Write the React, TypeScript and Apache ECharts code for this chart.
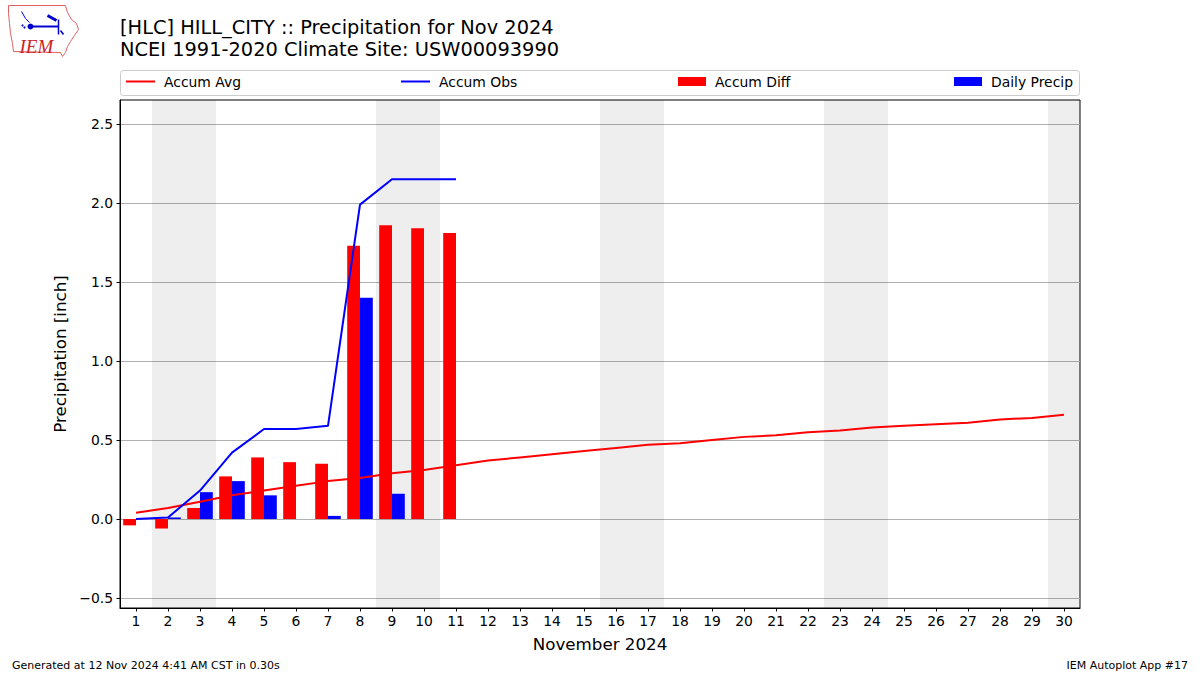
import React, { useEffect, useRef } from "react";
import * as echarts from "echarts";

const days = [1, 2, 3, 4, 5, 6, 7, 8, 9, 10, 11, 12, 13, 14, 15, 16, 17, 18, 19, 20, 21, 22, 23, 24, 25, 26, 27, 28, 29, 30];
const accumAvg = [0.04, 0.07, 0.11, 0.15, 0.18, 0.21, 0.24, 0.26, 0.29, 0.31, 0.34, 0.37, 0.39, 0.41, 0.43, 0.45, 0.47, 0.48, 0.5, 0.52, 0.53, 0.55, 0.56, 0.58, 0.59, 0.6, 0.61, 0.63, 0.64, 0.66];
const obsDays = [1, 2, 3, 4, 5, 6, 7, 8, 9, 10, 11];
const accumObs = [0, 0.01, 0.18, 0.42, 0.57, 0.57, 0.59, 1.99, 2.15, 2.15, 2.15];
const accumDiff = [-0.04, -0.06, 0.07, 0.27, 0.39, 0.36, 0.35, 1.73, 1.86, 1.84, 1.81];
const dailyPrecip = [0, 0.01, 0.17, 0.24, 0.15, 0, 0.02, 1.4, 0.16, 0, 0];
const weekendRanges = [[1.5, 3.5], [8.5, 10.5], [15.5, 17.5], [22.5, 24.5], [29.5, 30.5]];
const yTicks = [-0.5, 0, 0.5, 1.0, 1.5, 2.0, 2.5];

const titleLines = ["[HLC] HILL_CITY :: Precipitation for Nov 2024", "NCEI 1991-2020 Climate Site: USW00093990"];
const footerLeft = "Generated at 12 Nov 2024 4:41 AM CST in 0.30s";
const footerRight = "IEM Autoplot App #17";

const FONT = "DejaVu Sans";

export default function App() {
  const ref = useRef<HTMLDivElement>(null);
  useEffect(() => {
    document.body.style.margin = "0";
    const chart = echarts.init(ref.current!, null, { renderer: "svg" });
    const legendText = { fontFamily: FONT, fontSize: 13.9, color: "#000", padding: [0, 0, 0, 4], lineHeight: 16 };
    const lineLegend = (name: string, left: number) => ({
      data: [name], left, top: 73.5, padding: 0, icon: "rect", itemWidth: 29, itemHeight: 2,
      selectedMode: false, textStyle: legendText,
    });
    const barLegend = (name: string, left: number) => ({
      data: [name], left, top: 73.5, padding: 0, icon: "rect", itemWidth: 28, itemHeight: 9,
      selectedMode: false, textStyle: legendText,
    });
    const option: any = {
      animation: false,
      backgroundColor: "#fff",
      title: {
        text: titleLines.join("\n"),
        left: 120, top: 16, padding: 0,
        textStyle: { fontFamily: FONT, fontSize: 19.4, fontWeight: "normal", color: "#000", lineHeight: 22 },
      },
      legend: [
        lineLegend("Accum Avg", 126),
        lineLegend("Accum Obs", 401),
        barLegend("Accum Diff", 678),
        barLegend("Daily Precip", 954),
      ],
      grid: { left: 120, top: 100, width: 960, height: 508, show: true, borderColor: "#000", borderWidth: 1, backgroundColor: "transparent" },
      xAxis: {
        type: "value", min: 0.5, max: 30.5,
        name: "November 2024", nameLocation: "middle", nameGap: 27,
        nameTextStyle: { fontFamily: FONT, fontSize: 16.7, color: "#000" },
        axisLine: { show: true, onZero: false, lineStyle: { color: "#000", width: 1 } },
        axisTick: { show: true, length: 3.5, customValues: days, lineStyle: { color: "#000" } },
        axisLabel: { customValues: days, fontFamily: FONT, fontSize: 13.9, color: "#000", margin: 6 },
        splitLine: { show: false },
      },
      yAxis: {
        type: "value", min: -0.563, max: 2.652,
        name: "Precipitation [inch]", nameLocation: "middle", nameGap: 52,
        nameTextStyle: { fontFamily: FONT, fontSize: 16.7, color: "#000" },
        axisLine: { show: true, onZero: false, lineStyle: { color: "#000", width: 1 } },
        axisTick: { show: true, length: 3.5, customValues: yTicks, lineStyle: { color: "#000" } },
        axisLabel: {
          customValues: yTicks, fontFamily: FONT, fontSize: 13.9, color: "#000", margin: 7,
          formatter: (v: number) => (v < 0 ? "\u2212" + Math.abs(v).toFixed(1) : v.toFixed(1)),
        },
        splitLine: { show: true, lineStyle: { color: "#b0b0b0", width: 1 } },
      },
      series: [
        {
          name: "bg", type: "line", data: [], z: 1, silent: true,
          markArea: {
            silent: true,
            itemStyle: { color: "rgba(0,0,0,0.067)" },
            data: weekendRanges.map((r) => [{ xAxis: r[0] }, { xAxis: r[1] }]),
          },
        },
        {
          name: "Accum Diff", type: "bar", barWidth: 12.8, barGap: "0%",
          itemStyle: { color: "#ff0000" },
          data: obsDays.map((d, i) => [d, accumDiff[i]]),
        },
        {
          name: "Daily Precip", type: "bar", barWidth: 12.8, barGap: "0%",
          itemStyle: { color: "#0000ff" },
          data: obsDays.map((d, i) => [d, dailyPrecip[i]]),
        },
        {
          name: "Accum Avg", type: "line", symbol: "none", showSymbol: false, z: 3,
          lineStyle: { color: "#ff0000", width: 2 }, itemStyle: { color: "#ff0000" },
          data: days.map((d, i) => [d, accumAvg[i]]),
        },
        {
          name: "Accum Obs", type: "line", symbol: "none", showSymbol: false, z: 3,
          lineStyle: { color: "#0000ff", width: 2 }, itemStyle: { color: "#0000ff" },
          data: obsDays.map((d, i) => [d, accumObs[i]]),
        },
      ],
      graphic: [
        {
          type: "rect", shape: { x: 120.5, y: 70.5, width: 959, height: 25, r: 3 },
          style: { fill: "rgba(255,255,255,0.8)", stroke: "#cccccc", lineWidth: 1 }, z: 0, silent: true,
        },
        {
          type: "text", left: 12, top: 660,
          style: { text: footerLeft, fontFamily: FONT, fontSize: 11, fill: "#000" },
        },
        {
          type: "text", right: 12, top: 660,
          style: { text: footerRight, fontFamily: FONT, fontSize: 11, fill: "#000" },
        },
        {
          type: "group", left: 8, top: 5, silent: true,
          children: [
            {
              type: "polygon",
              shape: { points: [[1, 1], [58, 1], [60, 8], [64, 15], [69, 19], [71, 25], [67, 31], [63, 37], [60, 42], [58, 48], [55, 52], [53, 48], [6, 47], [5, 39], [3, 29], [2, 19], [1, 9]] },
              style: { fill: "#fff", stroke: "#e06060", lineWidth: 1 },
            },
            { type: "line", shape: { x1: 23, y1: 22, x2: 51, y2: 22 }, style: { stroke: "#0000cc", lineWidth: 2 } },
            { type: "circle", shape: { cx: 23, cy: 22, r: 3 }, style: { fill: "#0000cc" } },
            { type: "line", shape: { x1: 40, y1: 11, x2: 49, y2: 16 }, style: { stroke: "#0000cc", lineWidth: 3 } },
            { type: "line", shape: { x1: 51, y1: 15, x2: 51, y2: 30 }, style: { stroke: "#0000cc", lineWidth: 1.5 } },
            { type: "line", shape: { x1: 53, y1: 26, x2: 56, y2: 30 }, style: { stroke: "#0000cc", lineWidth: 1.5 } },
            { type: "line", shape: { x1: 14, y1: 7, x2: 18, y2: 14 }, style: { stroke: "#0000cc", lineWidth: 1 } },
            { type: "line", shape: { x1: 18, y1: 14, x2: 22, y2: 18 }, style: { stroke: "#0000cc", lineWidth: 1 } },
            { type: "circle", shape: { cx: 15, cy: 21, r: 1 }, style: { fill: "#0000cc" } },
            { type: "circle", shape: { cx: 17, cy: 23, r: 1 }, style: { fill: "#0000cc" } },
            {
              type: "text", x: 12, y: 32,
              style: { text: "IEM", fontFamily: "Liberation Serif", fontStyle: "italic", fontSize: 19, fill: "#cc2222" },
            },
          ],
        },
      ],
    };
    chart.setOption(option);
    return () => chart.dispose();
  }, []);
  return <div ref={ref} style={{ width: 1200, height: 675 }} />;
}
